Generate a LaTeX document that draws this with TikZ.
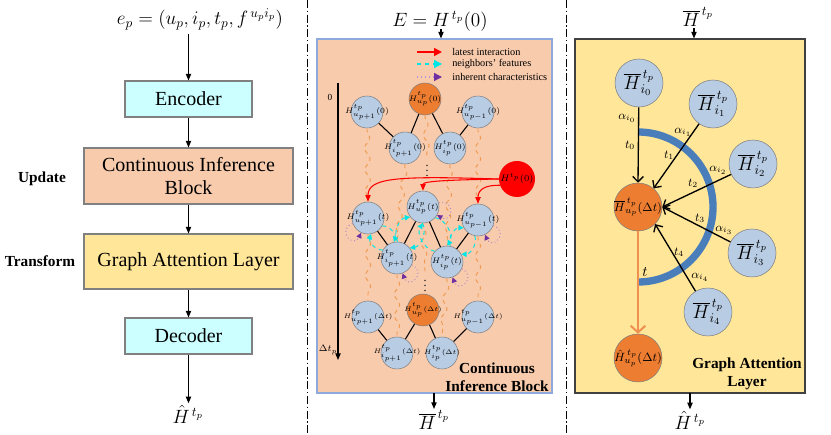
\documentclass[tikz,border=0pt]{standalone}
\usepackage{fontspec}
\setmainfont{Liberation Serif}
\usetikzlibrary{arrows.meta,decorations.pathmorphing,calc}
\definecolor{cyanbox}{HTML}{CCFFFF}
\definecolor{peach}{HTML}{F8CBAD}
\definecolor{gold}{HTML}{FFE699}
\definecolor{nodeblue}{HTML}{B8CCE4}
\definecolor{orangeN}{HTML}{ED7D31}
\definecolor{arcblue}{HTML}{4A7EBB}
\definecolor{purp}{HTML}{7030A0}
\definecolor{cyanA}{HTML}{00E5E5}
\definecolor{wavyor}{HTML}{F09A50}
\definecolor{midborder}{HTML}{8EA9DB}
\newcommand{\zw}[1]{\makebox[0pt]{#1}}
\begin{document}
\begin{tikzpicture}[x=0.75pt,y=0.75pt,
  box/.style={draw=gray, line width=0.8pt, align=center, inner sep=0pt, font=\fontsize{15}{17}\selectfont},
  arr/.style={-{Triangle[length=5pt,width=4pt]}, line width=0.8pt},
  side/.style={font=\bfseries\fontsize{11.5}{13}\selectfont},
  mnode/.style={circle, draw=gray, fill=nodeblue, minimum size=24pt, inner sep=0pt, font=\fontsize{6}{7}\selectfont},
  monode/.style={mnode, fill=orangeN},
  dnode/.style={font=\fontsize{5.3}{6}\selectfont},
  rnode/.style={circle, draw=gray, fill=nodeblue, minimum size=36pt, inner sep=0pt, font=\fontsize{14}{16}\selectfont},
  ronode/.style={rnode, fill=orangeN, font=\fontsize{9.3}{11}\selectfont},
  edgeline/.style={line width=0.8pt},
  wavy/.style={draw=wavyor, dashed, line width=0.7pt, decorate, decoration={snake, amplitude=2pt, segment length=16pt, pre length=2pt, post length=2pt}},
  redarr/.style={draw=red, line width=0.8pt, -{Triangle[length=5pt,width=4pt]}},
  cyanarr/.style={draw=cyanA, dashed, line width=0.7pt, -{Triangle[length=4pt,width=4pt]}},
  ploop/.style={draw=purp!60, dotted, line width=0.7pt, -{Triangle[length=4pt,width=4pt,color=purp]}},
  blackarr/.style={line width=1pt, -{Straight Barb[length=4pt,width=8pt]}},
  lbl/.style={font=\fontsize{9}{10}\selectfont, inner sep=1pt},
  legend/.style={font=\fontsize{7.7}{9}\selectfont, anchor=west, inner sep=0pt}
]
\useasboundingbox (0,0) rectangle (831,435);

% ---------------- left panel ----------------
\node[font=\fontsize{14}{16}\selectfont] (ep) at (200,416) {$e_p=(u_p,i_p,t_p,f^{\,u_pi_p})$};
\node[box, fill=cyanbox, minimum width=95.25pt, minimum height=27pt] (enc) at (188.5,336) {Encoder};
\node[box, fill=peach, minimum width=156.75pt, minimum height=42pt] (cib) at (188.5,259) {Continuous Inference\\Block};
\node[box, fill=gold, minimum width=156.75pt, minimum height=41.25pt] (gal) at (188.5,173.5) {Graph Attention Layer};
\node[box, fill=cyanbox, minimum width=95.25pt, minimum height=27pt] (dec) at (188.5,99) {Decoder};
\node[font=\fontsize{14}{16}\selectfont, inner sep=1pt] (hhat) at (188,21) {$\hat{H}^{\,t_p}$};
\node[side] (updl) at (42,256) {Update};
\node[side] (trf) at (40,174) {Transform};
\coordinate (eptop) at (188.5,401);
\draw[arr] (eptop) -- (enc.north);
\draw[arr] (enc.south) -- (cib.north);
\draw[arr] (cib.south) -- (gal.north);
\draw[arr] (gal.south) -- (dec.north);
\draw[arr] (dec.south) -- (hhat.north -| dec.south);

% separators
\draw[line width=0.6pt, dash pattern=on 6pt off 2pt on 1pt off 2pt] (307,435) -- (307,0);
\draw[line width=0.6pt, dash pattern=on 6pt off 2pt on 1pt off 2pt] (566,435) -- (566,0);

% ---------------- middle panel ----------------
\node[font=\fontsize{14}{16}\selectfont, inner sep=1pt] (E) at (440,414) {$E=H^{\,t_p}(0)$};
\node[draw=midborder, line width=0.8pt, fill=peach, minimum width=176.25pt, minimum height=265.5pt, inner sep=0pt] (mbox) at (434.5,219) {};
\coordinate (ein) at (441,406);
\draw[arr] (ein) -- (ein |- mbox.north);
\node[font=\fontsize{14}{16}\selectfont, inner sep=1pt] (hbar) at (434,15) {$\overline{H}^{\,t_p}$};
\coordinate (mout) at (434,42);
\draw[arr] (mout) -- (mout |- hbar.north);

% legend
\coordinate (lr1) at (417,383); \coordinate (lr2) at (442,383);
\coordinate (lc1) at (417,371); \coordinate (lc2) at (442,371);
\coordinate (lp1) at (417,358); \coordinate (lp2) at (442,358);
\draw[draw=red, line width=1.2pt, -{Triangle[length=6pt,width=6pt]}] (lr1) -- (lr2);
\draw[cyanarr, line width=1pt, -{Triangle[length=6pt,width=6pt]}] (lc1) -- (lc2);
\draw[draw=purp!50, dotted, line width=1pt, -{Triangle[length=6pt,width=6pt,color=purp]}] (lp1) -- (lp2);
\node[legend] (leg1) at (452,383) {latest interaction};
\node[legend] (leg2) at (452,371) {neighbors' features};
\node[legend] (leg3) at (452,358) {inherent characteristics};

% time axis
\coordinate (ta) at (338,352); \coordinate (tb) at (338,75);
\draw[arr] (ta) -- (tb);
\node[font=\fontsize{7}{8}\selectfont] (tz) at (330,338) {0};
\node[font=\fontsize{7}{8}\selectfont] (tdt) at (328,85) {$\Delta t_p$};

% nodes level 0
\node[mnode] (u10) at (367,323) {\zw{$H^{t_p}_{u_{p+1}}(0)$}};
\node[monode] (up0) at (425,336) {\zw{$H^{t_p}_{u_p}(0)$}};
\node[mnode] (um0) at (478,323) {\zw{$H^{t_p}_{u_{p-1}}(0)$}};
\node[mnode] (i10) at (405,287) {\zw{$H^{t_p}_{i_{p+1}}(0)$}};
\node[mnode] (ip0) at (450,287) {\zw{$H^{t_p}_{i_p}(0)$}};
\node[circle, fill=red, minimum size=27pt, inner sep=0pt, font=\fontsize{7}{8}\selectfont] (H0) at (517,256) {\zw{$H^{t_p}(0)$}};
% level t
\node[mnode] (u1t) at (368,217) {\zw{$H^{t_p}_{u_{p+1}}(t)$}};
\node[mnode] (upt) at (423,228) {\zw{$H^{t_p}_{u_p}(t)$}};
\node[mnode] (umt) at (478,215) {\zw{$H^{t_p}_{u_{p-1}}(t)$}};
\node[mnode] (i1t) at (397,177) {\zw{$H^{t_p}_{i_{p+1}}(t)$}};
\node[mnode] (ipt) at (447,173) {\zw{$H^{t_p}_{i_p}(t)$}};
% level dt
\node[mnode, dnode] (u1d) at (368,118) {\zw{$H^{t_p}_{u_{p+1}}(\Delta t)$}};
\node[monode, dnode] (upd) at (423,125) {\zw{$H^{t_p}_{u_p}(\Delta t)$}};
\node[mnode, dnode] (umd) at (478,118) {\zw{$H^{t_p}_{u_{p-1}}(\Delta t)$}};
\node[mnode, dnode] (i1d) at (397,82) {\zw{$H^{t_p}_{i_{p+1}}(\Delta t)$}};
\node[mnode, dnode] (ipd) at (442,82) {\zw{$H^{t_p}_{i_p}(\Delta t)$}};

\node[font=\fontsize{9}{9}\selectfont, inner sep=0pt] (dots1) at (427,268) {$\vdots$};
\node[font=\fontsize{9}{9}\selectfont, inner sep=0pt] (dots2) at (425,153) {$\vdots$};

% wavy links
\draw[wavy] (u10.south) -- (u1t.north);
\draw[wavy] (i10.south) -- (i1t.north);
\draw[wavy] (up0.south) -- (dots1.north);
\draw[wavy] (ip0.south) -- (ipt.north);
\draw[wavy] (um0.south) -- (umt.north);
\draw[wavy] (u1t.south) -- (u1d.north);
\draw[wavy] (i1t.south) -- (i1d.north);
\draw[wavy] (upt.south) -- (dots2.north);
\draw[wavy] (ipt.south) -- (ipd.north);
\draw[wavy] (umt.south) -- (umd.north);

% black edges
\foreach \lv in {0,t,d}{
  \draw[edgeline] (u1\lv) -- (i1\lv);
  \draw[edgeline] (up\lv) -- (i1\lv);
  \draw[edgeline] (up\lv) -- (ip\lv);
  \draw[edgeline] (um\lv) -- (ip\lv);
}

% red arrows
\draw[redarr] (H0.west) .. controls (400,259) and (368,258) .. (u1t.north);
\draw[redarr] (H0.west) .. controls (450,255) and (423,254) .. (upt.north);
\draw[redarr] (H0.200) .. controls (486,250) and (478,246) .. (umt.north);

% cyan arrows
\draw[cyanarr] (u1t.-29) to[bend left=55] (i1t.101);
\draw[cyanarr] (i1t.151) to[bend left=55] (u1t.-79);
\draw[cyanarr] (upt.-92) to[bend left=55] (i1t.38);
\draw[cyanarr] (i1t.88) to[bend left=55] (upt.-142);
\draw[cyanarr] (upt.-41) to[bend left=55] (ipt.89);
\draw[cyanarr] (ipt.139) to[bend left=55] (upt.-91);
\draw[cyanarr] (umt.-101) to[bend left=55] (ipt.29);
\draw[cyanarr] (ipt.79) to[bend left=55] (umt.-151);

% purple self loops
\draw[ploop] (u1t.-160) .. controls +(-160:18) and +(-115:18) .. (u1t.-115);
\draw[ploop] (upt.15) .. controls +(15:18) and +(-30:18) .. (upt.-30);
\draw[ploop] (i1t.-25) .. controls +(-25:18) and +(-70:18) .. (i1t.-70);
\draw[ploop] (ipt.-25) .. controls +(-25:18) and +(-70:18) .. (ipt.-70);
\draw[ploop] (umt.-20) .. controls +(-20:18) and +(-65:18) .. (umt.-65);

\node[font=\bfseries\fontsize{11.5}{13.5}\selectfont, align=center] (cibl) at (497,58) {Continuous\\Inference Block};

% ---------------- right panel ----------------
\node[font=\fontsize{14}{16}\selectfont, inner sep=1pt] (hbar2) at (698,418) {$\overline{H}^{\,t_p}$};
\node[draw=black!75, line width=0.8pt, fill=gold, minimum width=172.5pt, minimum height=265.5pt, inner sep=0pt] (rbox) at (690,219) {};
\coordinate (rin) at (694,407);
\draw[arr] (rin) -- (rin |- rbox.north);
\node[font=\fontsize{14}{16}\selectfont, inner sep=1pt] (hhat2) at (690,15) {$\hat{H}^{\,t_p}$};
\coordinate (rout) at (690,42);
\draw[arr] (rout) -- (rout |- hhat2.north);

\node[ronode] (u) at (638,228) {\zw{$\overline{H}^{\,t_p}_{u_p}(\Delta t)$}};
\draw[arcblue, line width=5.5pt] (638,303) arc[start angle=90, end angle=-90, radius=75];
\node[rnode] (i0) at (639,352) {\zw{$\overline{H}^{\,t_p}_{i_0}$}};
\node[rnode] (i1) at (713,331) {\zw{$\overline{H}^{\,t_p}_{i_1}$}};
\node[rnode] (i2) at (753,271) {\zw{$\overline{H}^{\,t_p}_{i_2}$}};
\node[rnode] (i3) at (752,182) {\zw{$\overline{H}^{\,t_p}_{i_3}$}};
\node[rnode] (i4) at (708,123) {\zw{$\overline{H}^{\,t_p}_{i_4}$}};
\node[ronode] (out) at (638,77) {\zw{$\hat{H}^{\,t_p}_{u_p}(\Delta t)$}};

\draw[blackarr] (i0) -- (u.north);
\draw[blackarr] (i1) -- (u.50);
\draw[blackarr] (i2) -- (u.east);
\draw[blackarr] (i3) -- (u.east);
\draw[blackarr] (i4) -- (u.-45);
\draw[draw=orangeN!85, line width=1.5pt, -{Straight Barb[length=5pt,width=11pt]}] (u.south) -- (out.north);

\node[lbl] (a0) at (627,317) {$\alpha_{i_0}$};
\node[lbl] (t0) at (630,290) {$t_0$};
\node[lbl] (a1) at (683,303) {$\alpha_{i_1}$};
\node[lbl] (t1l) at (669,280) {$t_1$};
\node[lbl] (a2) at (718,265) {$\alpha_{i_2}$};
\node[lbl] (t2l) at (693,252) {$t_2$};
\node[lbl] (t3l) at (700,217) {$t_3$};
\node[lbl] (a3) at (724,205) {$\alpha_{i_3}$};
\node[lbl] (t4l) at (679,183) {$t_4$};
\node[lbl] (a4) at (700,158) {$\alpha_{i_4}$};
\node[lbl, font=\fontsize{11}{12}\selectfont] (tl) at (645,163) {$t$};

\node[font=\bfseries\fontsize{11.5}{13.5}\selectfont, align=center] (gall) at (747,61) {Graph Attention\\Layer};
\end{tikzpicture}
\end{document}
